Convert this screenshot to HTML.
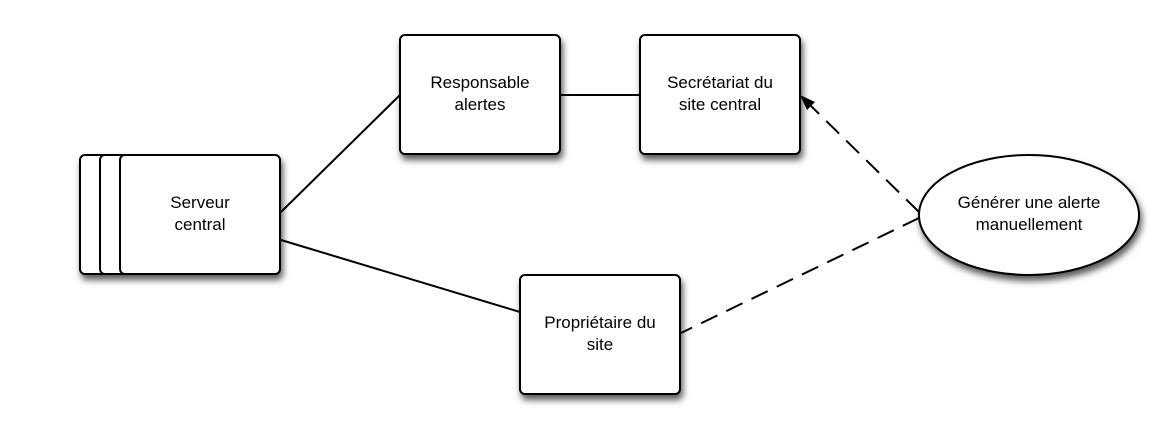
<!DOCTYPE html>
<html><head><meta charset="utf-8"><style>body{margin:0;background:#fff}</style></head><body>
<svg width="1173" height="440" xmlns="http://www.w3.org/2000/svg" font-family="Liberation Sans, sans-serif" font-size="17">
<defs><filter id="s" x="-20%" y="-20%" width="150%" height="150%"><feDropShadow dx="2" dy="5" stdDeviation="3.5" flood-color="#000" flood-opacity="0.65"/></filter></defs>
<g stroke="#000" stroke-width="2" fill="#fff" filter="url(#s)">
<rect x="80" y="155" width="160" height="119" rx="5"/>
<rect x="100" y="155" width="160" height="119" rx="5"/>
<rect x="120" y="155" width="160" height="119" rx="5"/>
<rect x="400" y="35" width="160" height="119" rx="5"/>
<rect x="640" y="35" width="160" height="119" rx="5"/>
<rect x="520" y="275" width="160" height="119" rx="5"/>
<ellipse cx="1029" cy="215" rx="110" ry="60"/>
</g>
<g stroke="#000" stroke-width="2" fill="none">
<line x1="281" y1="212" x2="400" y2="95"/>
<line x1="281" y1="240" x2="520" y2="312"/>
<line x1="560" y1="95" x2="640" y2="95"/>
<line x1="919" y1="212" x2="810" y2="105" stroke-dasharray="18,10"/>
<line x1="919" y1="218" x2="681" y2="333" stroke-dasharray="18,10"/>
</g>
<polygon points="800,95 815,102 807,110" fill="#000"/>
<g text-anchor="middle" fill="#000">
<text x="200" y="208">Serveur</text><text x="200" y="230">central</text>
<text x="480" y="88">Responsable</text><text x="480" y="110">alertes</text>
<text x="720" y="88">Secrétariat du</text><text x="720" y="110">site central</text>
<text x="600" y="328">Propriétaire du</text><text x="600" y="350">site</text>
<text x="1029" y="208">Générer une alerte</text><text x="1029" y="230">manuellement</text>
</g>
</svg>
</body></html>
